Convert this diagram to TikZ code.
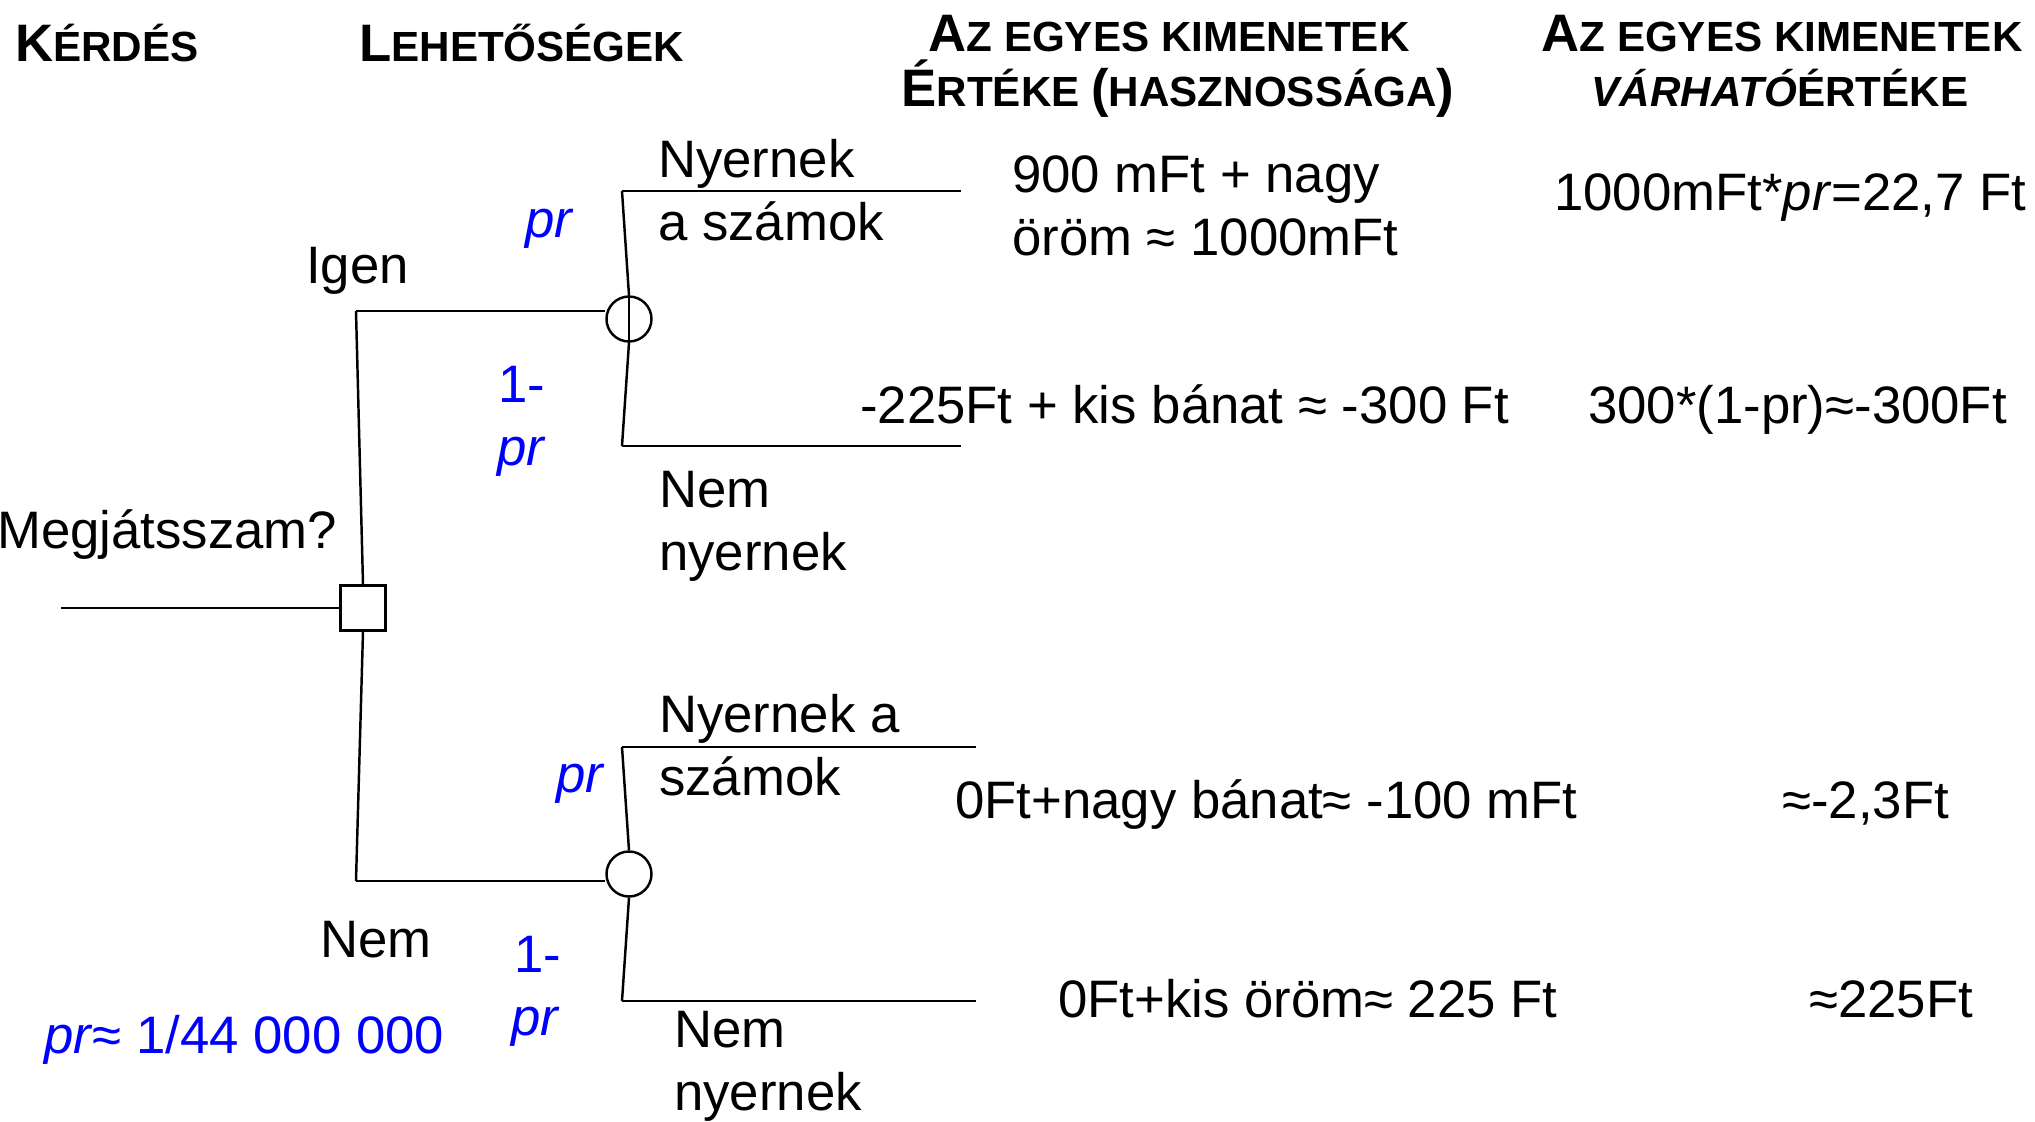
\documentclass[tikz,border=0pt]{standalone}
\usepackage{fontspec}
\setmainfont{Liberation Sans}
\usepackage{tikz}
\usetikzlibrary{positioning}

\definecolor{prblue}{RGB}{0,0,255}
\newcommand{\bigsz}{\fontsize{15}{18}\selectfont}
\newcommand{\smsz}{\fontsize{12}{14}\selectfont}
\newcommand{\hsc}[2]{{\bigsz #1}{\smsz #2}}

\tikzset{
  txt/.style={anchor=base west, inner sep=0pt, font=\bigsz},
  prob/.style={txt, text=prblue},
  head/.style={anchor=base, inner sep=0pt, font=\bfseries},
  decision/.style={draw, rectangle, minimum size=4.5mm, inner sep=0pt},
  chance/.style={draw, circle, minimum size=4.5mm, inner sep=0pt},
  branch/.style={line width=0.8pt}
}

\begin{document}
\begin{tikzpicture}[x=0.1mm, y=-0.1mm, line width=0.7pt]
  \useasboundingbox (0,0) rectangle (2035,1121);

  % Headers
  \node[head, anchor=base west] (hkerdes) at (14,61) {\hsc{K}{ÉRDÉS}};
  \node[head, anchor=base west] (hlehet) at (358,61) {\hsc{L}{EHETŐSÉGEK}};
  \node[head] (hertek1) at (1169,51) {\hsc{A}{Z EGYES KIMENETEK}};
  \node[head] (hertek2) at (1178,106) {\hsc{É}{RTÉKE }{\bigsz(}{\smsz HASZNOSSÁGA}{\bigsz)}};
  \node[head] (hvarh1) at (1782,51) {\hsc{A}{Z EGYES KIMENETEK}};
  \node[head] (hvarh2) at (1780,106) {\smsz\textit{VÁRHATÓ}ÉRTÉKE};

  % Tree nodes
  \node[decision] (dec) at (363,608) {};
  \node[chance]   (ch1) at (629,319) {};
  \node[chance]   (ch2) at (629,874) {};

  \coordinate (root) at (61,608);
  \coordinate (igen) at (356,311);
  \coordinate (nem)  at (356,881);
  \coordinate (win1) at (622,191);  \coordinate (win1e) at (961,191);
  \coordinate (lose1) at (622,446); \coordinate (lose1e) at (961,446);
  \coordinate (win2) at (622,747);  \coordinate (win2e) at (976,747);
  \coordinate (lose2) at (622,1001); \coordinate (lose2e) at (976,1001);

  % Branches
  \draw[branch] (root) -- (dec.west);
  \draw (dec.north) -- (igen);
  \draw[branch] (igen) -- (igen -| ch1.west);
  \draw (dec.south) -- (nem);
  \draw[branch] (nem) -- (nem -| ch2.west);
  \draw (ch1.north) -- (ch1.south);
  \draw (ch1.north) -- (win1);
  \draw[branch] (win1) -- (win1e);
  \draw (ch1.south) -- (lose1);
  \draw[branch] (lose1) -- (lose1e);
  \draw (ch2.north) -- (win2);
  \draw[branch] (win2) -- (win2e);
  \draw (ch2.south) -- (lose2);
  \draw[branch] (lose2) -- (lose2e);

  % Labels
  \node[txt] (kerdes) at (-4,548) {Megjátsszam?};
  \node[txt] (ligen) at (305,283) {Igen};
  \node[txt] (lnem) at (319,957) {Nem};
  \node[prob] (p1) at (524,237) {\textit{pr}};
  \node[prob] (q1a) at (497,402) {1-};
  \node[prob] (q1b) at (496,465) {\textit{pr}};
  \node[prob] (p2) at (555,792) {\textit{pr}};
  \node[prob] (q2a) at (513,972) {1-};
  \node[prob] (q2b) at (510,1035) {\textit{pr}};
  \node[prob] (prval) at (43,1053) {\textit{pr}≈ 1/44 000 000};

  \node[txt] (nyer1a) at (657,177) {Nyernek};
  \node[txt] (nyer1b) at (657,240) {a számok};
  \node[txt] (nemny1a) at (658,507) {Nem};
  \node[txt] (nemny1b) at (658,570) {nyernek};
  \node[txt] (nyer2a) at (658,732) {Nyernek a};
  \node[txt] (nyer2b) at (658,795) {számok};
  \node[txt] (nemny2a) at (673,1047) {Nem};
  \node[txt] (nemny2b) at (673,1110) {nyernek};

  % Values
  \node[txt] (ert1a) at (1011,192) {900 mFt + nagy};
  \node[txt] (ert1b) at (1011,255) {öröm ≈ 1000mFt};
  \node[txt] (ert2) at (859,423) {-225Ft + kis bánat ≈ -300 Ft};
  \node[txt] (ert3) at (954,818) {0Ft+nagy bánat≈ -100 mFt};
  \node[txt] (ert4) at (1057,1017) {0Ft+kis öröm≈ 225 Ft};

  \node[txt] (varh1) at (1553,210) {1000mFt*\textit{pr}=22,7 Ft};
  \node[txt] (varh2) at (1587,423) {300*(1-pr)≈-300Ft};
  \node[txt] (varh3) at (1781,818) {≈-2,3Ft};
  \node[txt] (varh4) at (1808,1017) {≈225Ft};

\end{tikzpicture}
\end{document}
